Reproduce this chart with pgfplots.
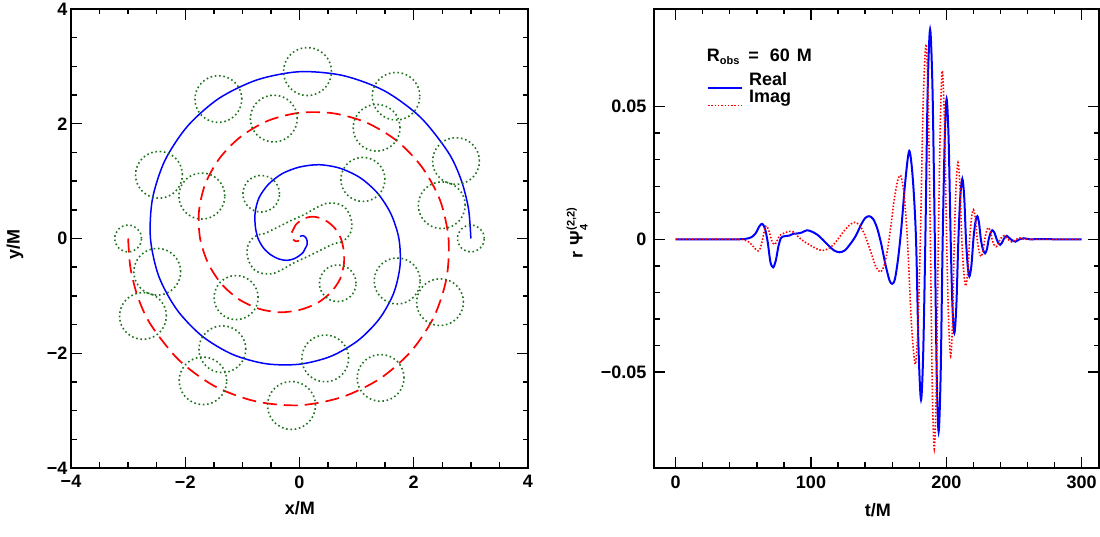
\documentclass[border=0pt]{standalone}
\usepackage{pgfplots}
\pgfplotsset{compat=1.18}
\usepackage{fontspec}
\setmainfont{Liberation Sans}
\definecolor{hgreen}{rgb}{0.12,0.45,0.12}
\newcommand{\lf}{\fontsize{18}{21}\selectfont\bfseries}
\newcommand{\smf}{\fontsize{11}{12}\selectfont\bfseries}
\begin{document}
\begin{tikzpicture}
\useasboundingbox (0,0) rectangle (1100pt,537pt);
\pgfplotsset{
  myaxis/.style={
    scale only axis, anchor=south west,
    axis line style={line width=2.4pt},
    axis background/.style={draw=black, line width=2.4pt},
    major tick length=11pt, minor tick length=5.5pt,
    tick style={black, line width=1.4pt},
    major tick style={line width=1.4pt},
    minor tick style={line width=1.4pt},
    tick align=inside,
    xtick pos=both, ytick pos=both,
    tick label style={font=\lf},
    label style={font=\lf},
  }
}
\begin{axis}[myaxis, at={(71pt,69pt)}, width=457pt, height=459pt,
  xmin=-4,xmax=4,ymin=-4,ymax=4,
  xtick={-4,-2,0,2,4}, ytick={-4,-2,0,2,4},
  xticklabels={−4,−2,0,2,4}, yticklabels={−4,−2,0,2,4},
  minor x tick num=3, minor y tick num=3,
  xticklabel style={yshift=-4pt},
  xlabel={x/M}, ylabel={y/M},
  xlabel style={at={(axis description cs:0.501,-0.087)}, anchor=center},
  ylabel style={at={(axis description cs:-0.1225,0.486)}, anchor=center},
]
% apparent horizons
\addplot[scatter, only marks, mark=o,
  scatter/use mapped color={draw=hgreen},
  mark options={line width=1.6pt, dash pattern=on 1.6pt off 2.7pt},
  visualization depends on={\thisrow{r} \as \rr},
  scatter/@pre marker code/.append style={/tikz/mark size=\rr}]
  table {
x y r
3.00 0.00 13.4
2.74 1.35 23.4
1.69 2.48 23.8
0.14 2.91 24.0
-1.42 2.43 23.4
-2.46 1.11 23.4
-2.49 -0.58 23.4
-1.35 -1.93 23.4
0.45 -2.09 23.4
1.71 -0.74 23.0
1.11 1.03 22.0
-0.67 0.78 18.3
-3.00 0.00 13.4
-2.74 -1.35 23.4
-1.69 -2.48 23.8
-0.14 -2.91 24.0
1.42 -2.43 23.4
2.46 -1.11 23.4
2.49 0.58 23.4
1.35 1.93 23.4
-0.45 2.09 23.4
-1.71 0.74 23.0
-1.11 -1.03 22.0
0.67 -0.78 18.3
};
% common horizon
\addplot[hgreen, line width=1.6pt, dash pattern=on 1.6pt off 2.7pt, smooth] coordinates {
(0.730,-0.064) (0.835,0.012) (0.905,0.128) (0.917,0.273) (0.876,0.419) (0.788,0.547) (0.642,0.611) (0.467,0.611) (0.292,0.535) (0.088,0.419) (-0.146,0.314) (-0.379,0.198) (-0.613,0.087) (-0.730,0.064) (-0.835,-0.012) (-0.905,-0.128) (-0.917,-0.273) (-0.876,-0.419) (-0.788,-0.547) (-0.642,-0.611) (-0.467,-0.611) (-0.292,-0.535) (-0.088,-0.419) (0.146,-0.314) (0.379,-0.198) (0.613,-0.087) (0.730,-0.064)};
% puncture 1
\addplot[blue, line width=1.5pt, smooth] coordinates {
(3.000,0.000) (2.958,0.522) (2.827,1.029) (2.603,1.503) (2.115,2.115) (1.486,2.574) (0.761,2.840) (0,2.907) (-0.741,2.765) (-1.410,2.442) (-1.959,1.959) (-2.356,1.360) (-2.574,0.690) (-2.609,0) (-2.463,-0.660) (-2.147,-1.240) (-1.703,-1.703) (-1.168,-2.022) (-0.585,-2.183) (0,-2.191) (0.550,-2.053) (1.026,-1.777) (1.399,-1.399) (1.649,-0.952) (1.760,-0.472) (1.740,0) (1.601,0.429) (1.367,0.790) (1.060,1.060) (0.708,1.225) (0.344,1.286) (0,1.245) (-0.303,1.130) (-0.545,0.943) (-0.709,0.709) (-0.777,0.449) (-0.773,0.207) (-0.725,0) (-0.628,-0.168) (-0.498,-0.288) (-0.358,-0.358) (-0.220,-0.381) (-0.094,-0.353) (0,-0.297) (0.064,-0.241) (0.100,-0.173) (0.132,-0.111) (0.135,-0.049) (0.120,0) (0.093,0.034) (0.060,0.050) (0.026,0.044) (0.010,0.033)};
% puncture 2
\addplot[red, line width=1.7pt, dash pattern=on 14pt off 7pt, smooth] coordinates {
(-3.000,0.000) (-2.958,-0.522) (-2.827,-1.029) (-2.603,-1.503) (-2.115,-2.115) (-1.486,-2.574) (-0.761,-2.840) (0,-2.907) (0.741,-2.765) (1.410,-2.442) (1.959,-1.959) (2.356,-1.360) (2.574,-0.690) (2.609,0) (2.463,0.660) (2.147,1.240) (1.703,1.703) (1.168,2.022) (0.585,2.183) (0,2.191) (-0.550,2.053) (-1.026,1.777) (-1.399,1.399) (-1.649,0.952) (-1.760,0.472) (-1.740,0) (-1.601,-0.429) (-1.367,-0.790) (-1.060,-1.060) (-0.708,-1.225) (-0.344,-1.286) (0,-1.245) (0.303,-1.130) (0.545,-0.943) (0.709,-0.709) (0.777,-0.449) (0.773,-0.207) (0.725,0) (0.628,0.168) (0.498,0.288) (0.358,0.358) (0.220,0.381) (0.094,0.353) (0,0.297) (-0.064,0.241) (-0.100,0.173) (-0.132,0.111) (-0.135,0.049) (-0.120,0) (-0.093,-0.034) (-0.060,-0.050) (-0.026,-0.044) (-0.010,-0.033)};
\end{axis}

\begin{axis}[myaxis, at={(654pt,69pt)}, width=445pt, height=459pt,
  xmin=-16, xmax=312.8, ymin=-0.0862, ymax=0.0868,
  xtick={0,100,200,300}, xticklabels={0,100,200,300},
  ytick={-0.05,0,0.05}, yticklabels={−0.05,0,0.05},
  minor x tick num=4, minor y tick num=4,
  scaled y ticks=false,
  xticklabel style={yshift=-4pt},
  yticklabel style={xshift=-4pt},
  xlabel={t/M},
  ylabel={r\hspace{6pt}Ψ\rlap{\raisebox{-5pt}{\smf 4}}\raisebox{8pt}{\smf (2,2)}},
  xlabel style={at={(axis description cs:0.503,-0.0915)}, anchor=center},
  ylabel style={at={(axis description cs:-0.173,0.512)}, anchor=center},
  legend style={at={(axis description cs:0.1191,0.8627)}, anchor=north west,
    draw=none, fill=none, inner sep=0pt, outer sep=0pt, font=\lf,
    row sep=0.3pt, column sep=6pt,
    nodes={inner sep=0pt, text height=13pt, text depth=4pt, anchor=base west}},
  legend image code/.code={\draw[#1] (0pt,-3pt) -- (34pt,-3pt);},
]
\addplot[blue, line width=2pt, smooth] coordinates {
(0,0) (45,0) (52,0.0002) (56,0.0008) (59,0.0022) (62,0.0050) (64,0.0058) (66,0.0040) (68,-0.0010) (70,-0.0085) (72,-0.0106) (74,-0.0080) (76,-0.0025) (78,0.0006) (81,0.0012) (84,0.0014) (87,0.0021) (90,0.0022) (93,0.0025) (97,0.0034) (101,0.0028) (105,0.0016) (109,-0.0003) (113,-0.0024) (117,-0.0042) (121,-0.0049) (125,-0.0042) (129,-0.0018) (133,0.0012) (137,0.0055) (140,0.0080) (143,0.0087) (146,0.0076) (149,0.0040) (152,-0.0020) (155,-0.0095) (158,-0.0155) (160,-0.0168) (162,-0.0150) (164.3,-0.0075) (166.7,0.0040) (169.7,0.0220) (172.6,0.0333) (175.2,0.0230) (177.6,0.0000) (179.5,-0.0420) (181.3,-0.0605) (182.9,-0.0430) (184.5,0.0000) (186.2,0.0560) (188.0,0.0791) (189.8,0.0560) (191.5,0.0000) (192.9,-0.0510) (194.3,-0.0725) (195.8,-0.0510) (197.3,0.0000) (198.8,0.0374) (200.2,0.0529) (201.7,0.0374) (203.2,0.0000) (204.5,-0.0250) (205.9,-0.0354) (207.4,-0.0250) (208.9,0.0000) (210.3,0.0160) (211.8,0.0228) (213.2,0.0160) (214.5,0.0000) (215.8,-0.0100) (217.0,-0.0140) (218.5,-0.0100) (220.0,0.0000) (221.4,0.0062) (222.9,0.0087) (224.2,0.0060) (225.5,0.0000) (227.0,-0.0038) (228.6,-0.0053) (230.0,-0.0037) (231.3,0.0000) (232.7,0.0024) (234.0,0.0034) (235.6,0.0024) (237.2,0.0000) (238.5,-0.0015) (239.7,-0.0021) (241.0,-0.0014) (242.3,0.0000) (244.6,0.0013) (247.5,0.0000) (251.0,-0.0009) (254.0,0.0000) (257.0,0.0004) (262,0) (270,0.0001) (280,0) (300,0)};
\addlegendentry{Real}
\addplot[red, line width=1.6pt, dash pattern=on 1.5pt off 1.8pt, smooth] coordinates {
(0,0) (45,0) (50,-0.0002) (54,-0.0010) (57,-0.0025) (60,-0.0042) (62,-0.0040) (64,-0.0005) (66,0.0042) (67.2,0.0050) (69,0.0030) (71,-0.0005) (73,-0.0020) (75,-0.0005) (77,0.0015) (80,0.0023) (84,0.0030) (87,0.0028) (90,0.0012) (94,-0.0005) (98,-0.0018) (102,-0.0030) (106,-0.0040) (109,-0.0042) (113,-0.0035) (117,-0.0018) (121,0.0008) (125,0.0035) (129,0.0056) (132.5,0.0064) (136,0.0052) (139,0.0025) (142,-0.0015) (145,-0.0060) (148,-0.0105) (151.5,-0.0123) (154,-0.0100) (156.5,-0.0040) (159,0.0050) (161.5,0.0150) (164,0.0220) (166.3,0.0240) (168.5,0.0180) (170.5,0.0060) (172,-0.0080) (174,-0.0300) (175.7,-0.0420) (177.3,-0.0470) (179,-0.0330) (180.8,0.0) (182.9,0.0520) (185,0.0735) (186.6,0.0520) (188.2,0.0) (189.6,-0.0556) (191.1,-0.0790) (192.6,-0.0556) (194.1,0.0) (195.6,0.0447) (197,0.0635) (198.6,0.0447) (200.2,0.0) (201.7,-0.0310) (203.2,-0.0440) (204.6,-0.0310) (205.9,0.0) (207.2,0.0205) (208.6,0.0290) (210,0.0205) (211.4,0.0) (212.9,-0.0124) (214.3,-0.0176) (215.8,-0.0124) (217.2,0.0) (218.6,0.0080) (220,0.0112) (221.4,0.0080) (222.8,0.0) (224.2,-0.0046) (225.6,-0.0065) (227,-0.0046) (228.4,0.0) (229.7,0.0031) (231,0.0044) (232.4,0.0031) (233.8,0) (235.2,-0.0020) (236.7,-0.0028) (238.2,-0.0020) (239.7,0) (242.6,0.0014) (245.5,0) (248.3,-0.0010) (251.5,0) (254.5,0.0005) (260,0) (300,0)};
\addlegendentry{Imag}
\node[anchor=base west, font=\lf, inner sep=0pt] at (axis description cs:0.1184,0.885)
  {R\raisebox{-3pt}{\smf obs}\hspace{9pt}=\hspace{11pt}60\hspace{7pt}M};
\end{axis}
\end{tikzpicture}
\end{document}
